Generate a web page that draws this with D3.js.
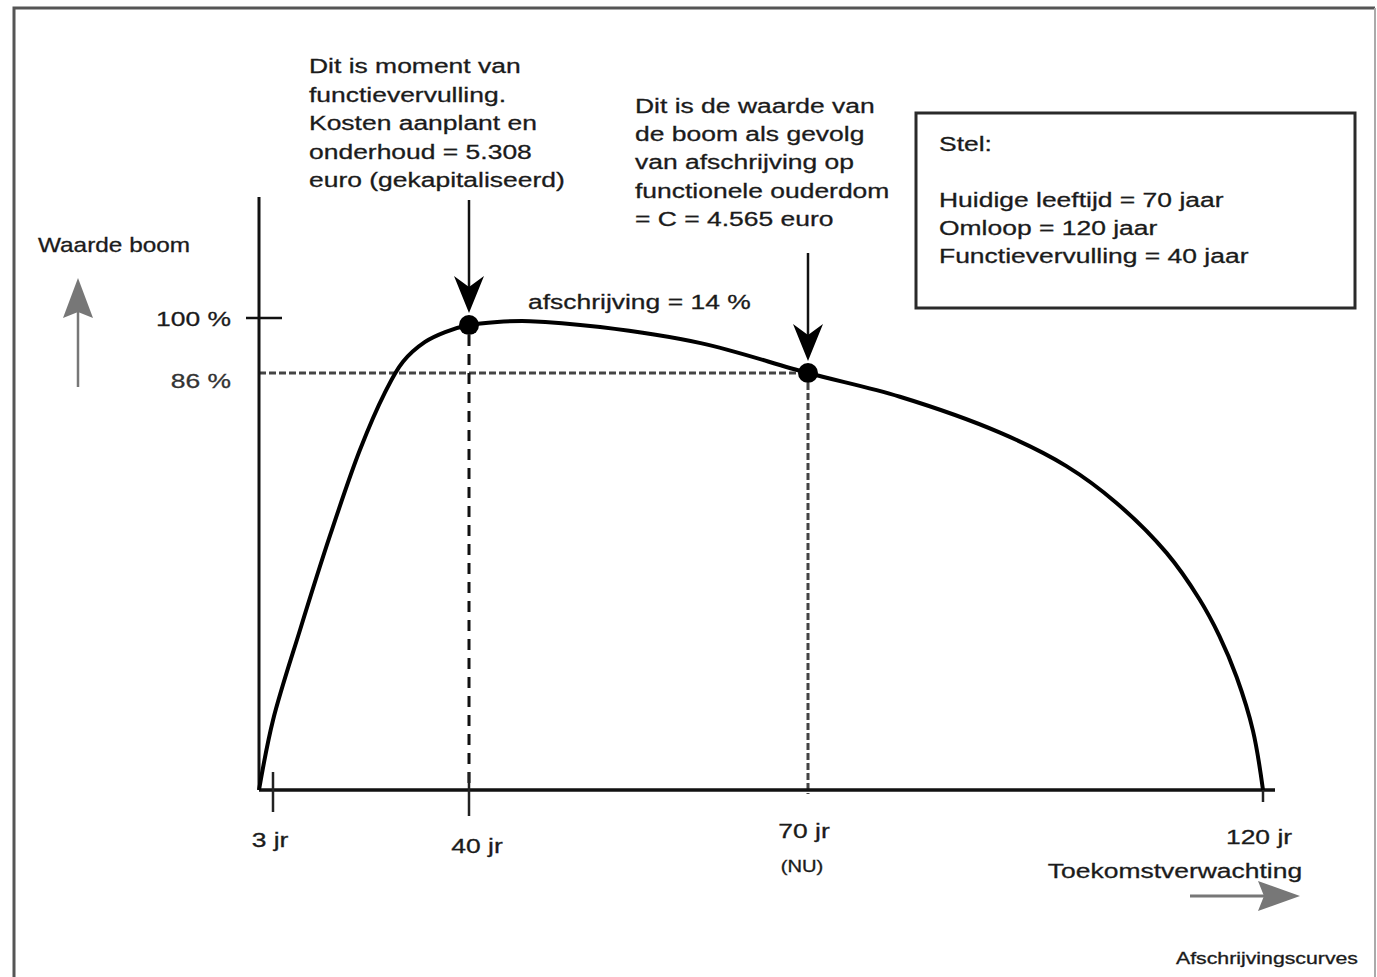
<!DOCTYPE html>
<html>
<head>
<meta charset="utf-8">
<script src="https://cdn.jsdelivr.net/npm/d3@7"></script>
<style>
body { margin: 0; background: #fff; }
svg text { font-family: "Liberation Sans", Arial, sans-serif; fill: #1b1b1b; stroke: #1b1b1b; stroke-width: 0.3px; }
</style>
</head>
<body>
<div class="CURVE"></div>
<script>
// depreciation curve: age (jr) vs value of the tree (%)
var ages   = [0, 3, 8.1, 13.8, 19.4, 24.1, 27.5, 31.7, 35.5, 40, 42.5, 45.4, 51.6, 60.5, 70, 80.1, 91.1, 98.4, 103.9, 109.4, 113, 115.2, 117.1, 118.9, 120];
var values = [0, 14.4, 33.0, 52.6, 70.1, 81.9, 88.8, 93.9, 96.4, 98.2, 99.0, 99.2, 97.7, 93.6, 86, 81.1, 73.7, 66.8, 59.2, 48.9, 39.4, 31.8, 23.3, 12.2, 0];

// marked moments on the curve
var markAges   = [40, 70];
var markValues = [98.2, 86];

// axis ticks
var tickAges   = [3, 40, 70, 120];
var tickLabels = ["3 jr", "40 jr", "70 jr", "120 jr"];
var pctTicks   = [100, 86];
var pctLabels  = ["100 %", "86 %"];

// texts
var noteLeft  = ["Dit is moment van", "functievervulling.", "Kosten aanplant en", "onderhoud = 5.308", "euro (gekapitaliseerd)"];
var noteRight = ["Dit is de waarde van", "de boom als gevolg", "van afschrijving op", "functionele ouderdom", "= C = 4.565 euro"];
var boxLines  = ["Stel:", "", "Huidige leeftijd = 70 jaar", "Omloop = 120 jaar", "Functievervulling = 40 jaar"];
var deprLabel = "afschrijving = 14 %";

var W = 1377, H = 977;

var svg = d3.select(".CURVE").append("svg")
    .attr("width", W)
    .attr("height", H);

// schematic axes: not to scale in the original, so piecewise
var x = d3.scaleLinear()
    .domain([0, 3, 40, 70, 120])
    .range([259, 273, 469, 808, 1263]);
var y = d3.scaleLinear()
    .domain([0, 86, 100])
    .range([790, 373, 318]);

// text helper, the original lettering is stretched sideways
function label(px, py, s, opts) {
    opts = opts || {};
    return svg.append("text")
        .attr("transform", "translate(" + px + "," + py + ") scale(" + (opts.sx || 1.26) + ",1)")
        .attr("text-anchor", opts.anchor || "start")
        .style("font-size", (opts.size || 21) + "px")
        .style("fill", opts.fill || null)
        .style("stroke", opts.fill || null)
        .text(s);
}

// outer frame
svg.append("path")
    .attr("d", "M14," + H + "V8H1375")
    .attr("fill", "none")
    .attr("stroke", "#555")
    .attr("stroke-width", 3);
svg.append("line")
    .attr("x1", 1375).attr("x2", 1375).attr("y1", 8).attr("y2", H)
    .attr("stroke", "#aaa")
    .attr("stroke-width", 2);

// dashed guide lines
svg.append("line")
    .attr("x1", x(0)).attr("x2", x(70))
    .attr("y1", y(86)).attr("y2", y(86))
    .attr("stroke", "#444").attr("stroke-width", 3)
    .attr("stroke-dasharray", "7,3");
svg.append("line")
    .attr("x1", x(40)).attr("x2", x(40))
    .attr("y1", y(markValues[0]) + 10).attr("y2", y(0))
    .attr("stroke", "#111").attr("stroke-width", 3)
    .attr("stroke-dasharray", "11,8");
svg.append("line")
    .attr("x1", x(70)).attr("x2", x(70))
    .attr("y1", y(86)).attr("y2", y(0) + 4)
    .attr("stroke", "#444").attr("stroke-width", 3)
    .attr("stroke-dasharray", "7,3");

// axes
svg.append("line")
    .attr("x1", x(0)).attr("x2", x(0))
    .attr("y1", 197).attr("y2", y(0))
    .attr("stroke", "#111").attr("stroke-width", 3);
svg.append("line")
    .attr("x1", x(0)).attr("x2", x(120) + 12)
    .attr("y1", y(0)).attr("y2", y(0))
    .attr("stroke", "#111").attr("stroke-width", 3.5);

// 100 % tick
svg.append("line")
    .attr("x1", x(0) - 13).attr("x2", x(0) + 23)
    .attr("y1", y(100)).attr("y2", y(100))
    .attr("stroke", "#111").attr("stroke-width", 2.5);

// x ticks (3 and 40 cross the axis, 120 hangs below)
var tickUp   = [18, 18, 0, 0];
var tickDown = [22, 26, 0, 12];
svg.selectAll(".xtick")
    .data(tickAges)
    .enter()
    .append("line")
    .attr("class", "xtick")
    .attr("x1", function(d) { return x(d); })
    .attr("x2", function(d) { return x(d); })
    .attr("y1", function(d, i) { return y(0) - tickUp[i]; })
    .attr("y2", function(d, i) { return y(0) + tickDown[i]; })
    .attr("stroke", "#222")
    .attr("stroke-width", 2.5);

// x tick labels
var lblDx = [-3, 8, -4, -4];
var lblDy = [57, 63, 48, 54];
tickAges.forEach(function(d, i) {
    label(x(d) + lblDx[i], y(0) + lblDy[i], tickLabels[i], {anchor: "middle"});
});
label(x(70) - 6, 872, "(NU)", {anchor: "middle", size: 16});

// y labels
var pctDy = [8, 15];
pctTicks.forEach(function(d, i) {
    label(231, y(d) + pctDy[i], pctLabels[i], {anchor: "end", fill: i ? "#333" : null});
});

// the curve
var pts = ages.map(function(a, i) { return [a, values[i]]; });
var line = d3.line()
    .x(function(d) { return x(d[0]); })
    .y(function(d) { return y(d[1]); })
    .curve(d3.curveCatmullRom.alpha(0.5));
svg.append("path")
    .datum(pts)
    .attr("d", line)
    .attr("fill", "none")
    .attr("stroke", "#000")
    .attr("stroke-width", 4)
    .attr("stroke-linejoin", "round");

// marked points
svg.selectAll(".mark")
    .data(markAges)
    .enter()
    .append("circle")
    .attr("class", "mark")
    .attr("cx", function(d) { return x(d); })
    .attr("cy", function(d, i) { return y(markValues[i]); })
    .attr("r", 10)
    .attr("fill", "#000");

// down arrows onto the marked points
var arrowTop = [200, 253];
markAges.forEach(function(d, i) {
    var ax = x(d), tip = y(markValues[i]) - 12;
    svg.append("line")
        .attr("x1", ax).attr("x2", ax)
        .attr("y1", arrowTop[i]).attr("y2", tip - 20)
        .attr("stroke", "#111").attr("stroke-width", 2.5);
    svg.append("path")
        .attr("d", "M" + (ax - 15) + "," + (tip - 37) + "L" + ax + "," + tip + "L" + (ax + 15) + "," + (tip - 37) + "L" + ax + "," + (tip - 26) + "Z")
        .attr("fill", "#000");
});

// gray direction arrows
svg.append("line")
    .attr("x1", 78).attr("x2", 78).attr("y1", 387).attr("y2", 310)
    .attr("stroke", "#777").attr("stroke-width", 2.5);
svg.append("path")
    .attr("d", "M78,278L93,318L78,312L63,318Z")
    .attr("fill", "#777");
svg.append("line")
    .attr("x1", 1190).attr("x2", 1265).attr("y1", 896).attr("y2", 896)
    .attr("stroke", "#777").attr("stroke-width", 3);
svg.append("path")
    .attr("d", "M1300,896L1258,881L1264,896L1258,911Z")
    .attr("fill", "#777");

// annotations
noteLeft.forEach(function(s, i) { label(309, 73 + i * 28.5, s); });
noteRight.forEach(function(s, i) { label(635, 113 + i * 28.2, s); });
label(528, 309, deprLabel);
label(38, 252, "Waarde boom", {sx: 1.16});
label(1175, 878, "Toekomstverwachting", {anchor: "middle"});
label(1358, 964, "Afschrijvingscurves", {anchor: "end", size: 16, sx: 1.33});

// assumptions box
svg.append("rect")
    .attr("x", 916).attr("y", 113)
    .attr("width", 439).attr("height", 195)
    .attr("fill", "#fff")
    .attr("stroke", "#2a2a2a")
    .attr("stroke-width", 3);
boxLines.forEach(function(s, i) { if (s) label(939, 151 + i * 28, s); });
</script>
</body>
</html>
